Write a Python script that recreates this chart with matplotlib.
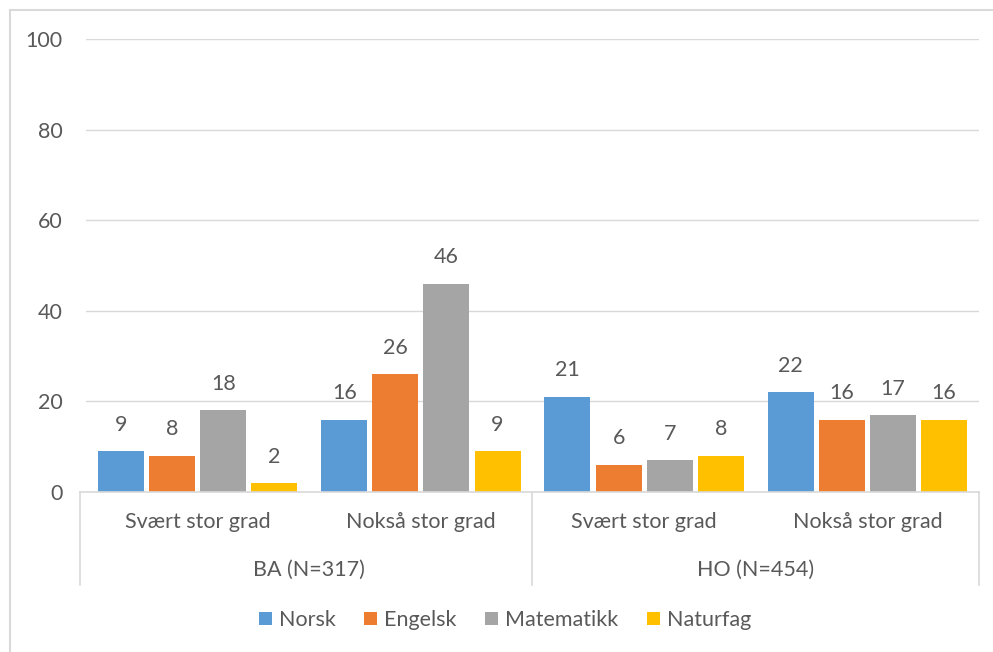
import matplotlib
matplotlib.use("Agg")
import matplotlib.pyplot as plt
from matplotlib.lines import Line2D
from matplotlib.patches import Rectangle, Patch
import numpy as np

plt.rcParams['font.family'] = ['Lato', 'DejaVu Sans']

groups = ["BA (N=317)", "HO (N=454)"]
categories = ["Svært stor grad", "Nokså stor grad"]
series = ["Norsk", "Engelsk", "Matematikk", "Naturfag"]
norsk = [9, 16, 21, 22]
engelsk = [8, 26, 6, 16]
matematikk = [18, 46, 7, 17]
naturfag = [2, 9, 8, 16]
values = [norsk, engelsk, matematikk, naturfag]
colors = ["#5B9BD5", "#ED7D31", "#A5A5A5", "#FFC000"]
yticks = [0, 20, 40, 60, 80, 100]

W, H = 993, 652
fig = plt.figure(figsize=(W / 100, H / 100), dpi=100)
txt = "#595959"
grid = "#D9D9D9"
fs = 15.5

# figure frame
fig.patches.append(Rectangle((10 / W, -0.1), 1.2, (H - 10) / H + 0.1, transform=fig.transFigure,
                             fill=False, edgecolor=grid, linewidth=1.5))

L, R, B, T = 86, 979, 492, 39
ax = fig.add_axes([L / W, (H - B) / H, (R - L) / W, (B - T) / H])
ax.set_xlim(0, 4)
ax.set_ylim(0, 100)
ax.set_yticks(yticks)
ax.set_yticklabels([str(t) for t in yticks], fontsize=fs, color=txt)
ax.tick_params(axis='y', length=0, pad=17)
ax.set_xticks([])
for s in ax.spines.values():
    s.set_visible(False)
ax.grid(axis='y', color=grid, linewidth=1)
ax.set_axisbelow(True)

n = len(series)
bw = 0.206
step = 0.229
x = np.arange(4) + 0.5
for i, (vals, c, name) in enumerate(zip(values, colors, series)):
    pos = x + (i - (n - 1) / 2) * step
    ax.bar(pos, vals, width=bw, color=c, label=name, zorder=2)
    for px, v in zip(pos, vals):
        ax.annotate(str(v), (px, v), xytext=(0, 19), textcoords='offset points',
                    ha='center', va='center', fontsize=fs, color=txt)

def fx(px):
    return px / W
def fy(py):
    return 1 - py / H

# multi-level category axis
fig.add_artist(Line2D([fx(80), fx(R)], [fy(B), fy(B)], color=grid, linewidth=1.2))
for sx in [80, 532, R]:
    fig.add_artist(Line2D([fx(sx), fx(sx)], [fy(B), fy(585)], color=grid, linewidth=1.2))

for j, cat in enumerate(categories * 2):
    fig.text(fx(L + (R - L) * (j + 0.5) / 4), fy(522), cat, ha='center', va='center',
             fontsize=fs, color=txt)
for g, name in enumerate(groups):
    fig.text(fx(L + (R - L) * (2 * g + 1) / 4), fy(570), name, ha='center', va='center',
             fontsize=fs, color=txt)

handles = [Patch(facecolor=c, edgecolor='none', label=s) for s, c in zip(series, colors)]
leg = fig.legend(handles=handles, loc='center', bbox_to_anchor=(fx(505), fy(620)), ncol=4,
                 frameon=False, fontsize=fs, handlelength=0.6, handleheight=0.6,
                 handletextpad=0.35, columnspacing=1.3, labelcolor=txt)

fig.savefig("out.png", dpi=100)
